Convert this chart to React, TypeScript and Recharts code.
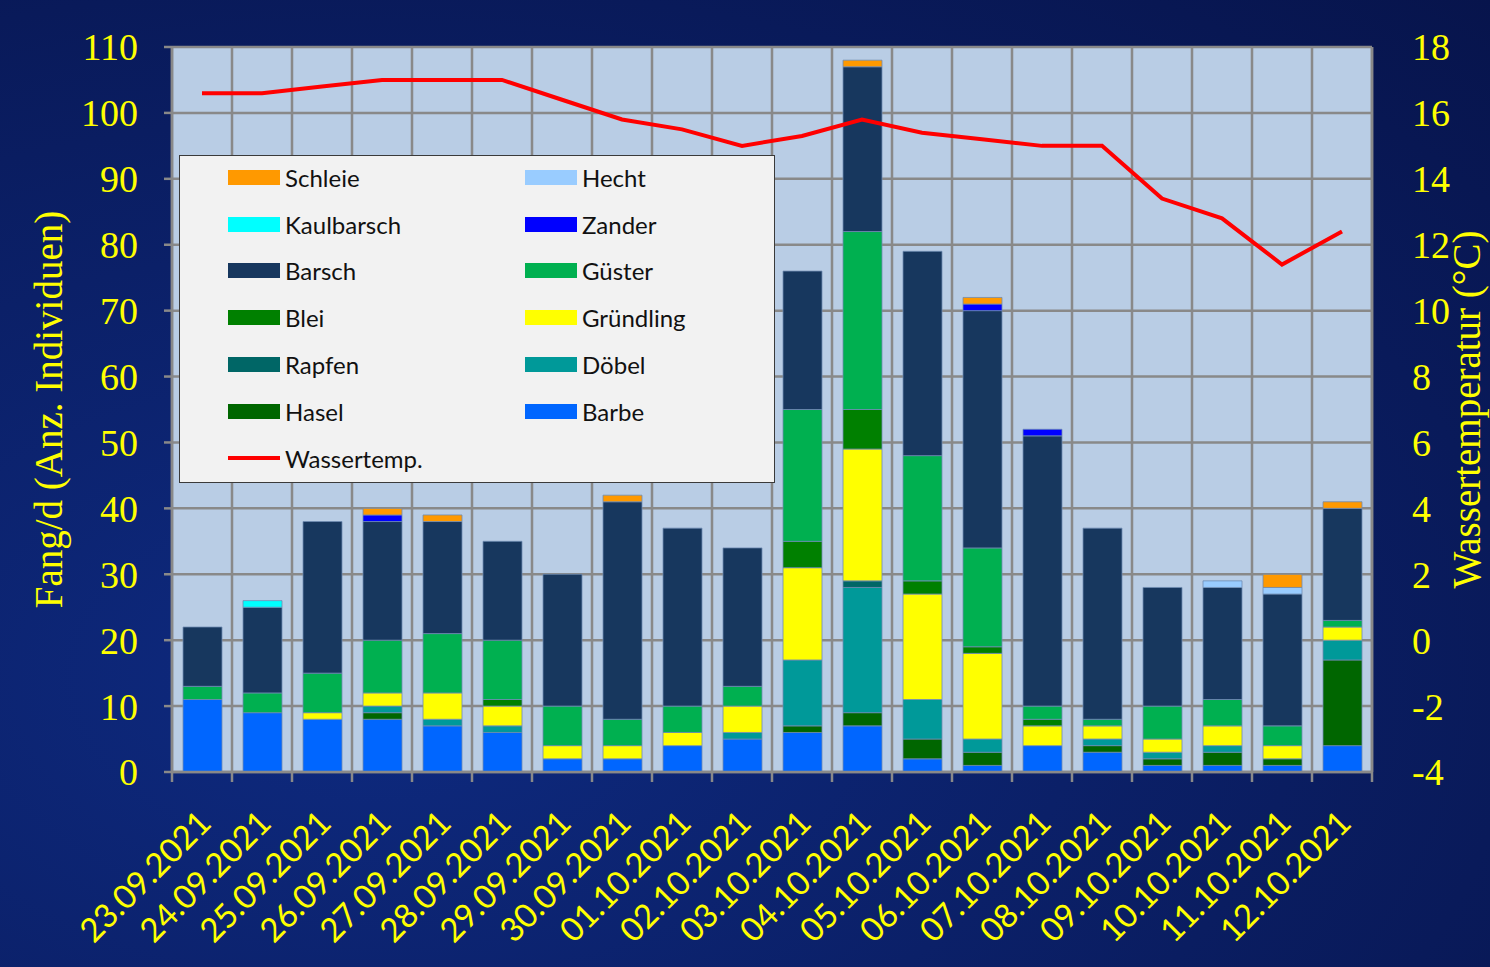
import React from 'react';
import {
  ComposedChart, Bar, Line, XAxis, YAxis, CartesianGrid,
} from 'recharts';

const dates = [
  '23.09.2021', '24.09.2021', '25.09.2021', '26.09.2021', '27.09.2021',
  '28.09.2021', '29.09.2021', '30.09.2021', '01.10.2021', '02.10.2021',
  '03.10.2021', '04.10.2021', '05.10.2021', '06.10.2021', '07.10.2021',
  '08.10.2021', '09.10.2021', '10.10.2021', '11.10.2021', '12.10.2021',
];

// catch per day, stacked bottom -> top
const barbe = [11, 9, 8, 8, 7, 6, 2, 2, 4, 5, 6, 7, 2, 1, 4, 3, 1, 1, 1, 4];
const hasel = [0, 0, 0, 1, 0, 0, 0, 0, 0, 0, 1, 2, 3, 2, 0, 1, 1, 2, 1, 13];
const doebel = [0, 0, 0, 1, 1, 1, 0, 0, 0, 1, 10, 19, 6, 2, 0, 1, 1, 1, 0, 3];
const rapfen = [0, 0, 0, 0, 0, 0, 0, 0, 0, 0, 0, 1, 0, 0, 0, 0, 0, 0, 0, 0];
const gruendling = [0, 0, 1, 2, 4, 3, 2, 2, 2, 4, 14, 20, 16, 13, 3, 2, 2, 3, 2, 2];
const blei = [0, 0, 0, 0, 0, 1, 0, 0, 0, 0, 4, 6, 2, 1, 1, 0, 0, 0, 0, 0];
const guester = [2, 3, 6, 8, 9, 9, 6, 4, 4, 3, 20, 27, 19, 15, 2, 1, 5, 4, 3, 1];
const barsch = [9, 13, 23, 18, 17, 15, 20, 33, 27, 21, 21, 25, 31, 36, 41, 29, 18, 17, 20, 17];
const zander = [0, 0, 0, 1, 0, 0, 0, 0, 0, 0, 0, 0, 0, 1, 1, 0, 0, 0, 0, 0];
const kaulbarsch = [0, 1, 0, 0, 0, 0, 0, 0, 0, 0, 0, 0, 0, 0, 0, 0, 0, 0, 0, 0];
const hecht = [0, 0, 0, 0, 0, 0, 0, 0, 0, 0, 0, 0, 0, 0, 0, 0, 0, 1, 1, 0];
const schleie = [0, 0, 0, 1, 1, 0, 0, 1, 0, 0, 0, 1, 0, 1, 0, 0, 0, 0, 2, 1];

const wassertemp = [
  16.6, 16.6, 16.8, 17.0, 17.0, 17.0, 16.4, 15.8, 15.5, 15.0,
  15.3, 15.8, 15.4, 15.2, 15.0, 15.0, 13.4, 12.8, 11.4, 12.4,
];

const leftTicks = [0, 10, 20, 30, 40, 50, 60, 70, 80, 90, 100, 110];
const rightTicks = [-4, -2, 0, 2, 4, 6, 8, 10, 12, 14, 16, 18];

const series = [
  { key: 'Barbe', values: barbe, color: '#0066ff' },
  { key: 'Hasel', values: hasel, color: '#006600' },
  { key: 'Döbel', values: doebel, color: '#009999' },
  { key: 'Rapfen', values: rapfen, color: '#006666' },
  { key: 'Gründling', values: gruendling, color: '#ffff00' },
  { key: 'Blei', values: blei, color: '#008000' },
  { key: 'Güster', values: guester, color: '#00b050' },
  { key: 'Barsch', values: barsch, color: '#17375e' },
  { key: 'Zander', values: zander, color: '#0000ff' },
  { key: 'Kaulbarsch', values: kaulbarsch, color: '#00ffff' },
  { key: 'Hecht', values: hecht, color: '#99ccff' },
  { key: 'Schleie', values: schleie, color: '#ff9900' },
];

// legend as Excel lays it out: two columns, top series first
const legendRows = [
  ['Schleie', 'Hecht'],
  ['Kaulbarsch', 'Zander'],
  ['Barsch', 'Güster'],
  ['Blei', 'Gründling'],
  ['Rapfen', 'Döbel'],
  ['Hasel', 'Barbe'],
];

const data = dates.map((d, i) => {
  const row: Record<string, string | number> = { date: d, temp: wassertemp[i] };
  series.forEach((s) => { row[s.key] = s.values[i]; });
  return row;
});

const colorOf = (k: string) => series.find((s) => s.key === k)?.color ?? '#000';

const YELLOW = '#ffff00';
const GRID = '#898989';
const SERIF = '"Liberation Serif", serif';
const SANS = 'Lato, "Open Sans", sans-serif';

function DateTick(props: any) {
  const { x, y, payload, index, visibleTicksCount, width } = props;
  const band = width && visibleTicksCount ? width / visibleTicksCount : 60;
  const last = index === visibleTicksCount - 1;
  const ax = x + 11;
  const ay = y + 45;
  return (
    <g>
      <line x1={x - band / 2} x2={x - band / 2} y1={y - 8} y2={y + 2} stroke={GRID} strokeWidth={2.5} />
      {last && <line x1={x + band / 2} x2={x + band / 2} y1={y - 8} y2={y + 2} stroke={GRID} strokeWidth={2.5} />}
      <text
        x={ax}
        y={ay}
        transform={`rotate(-45 ${ax} ${ay})`}
        textAnchor="end"
        fill={YELLOW}
        fontFamily={SANS}
        fontSize={33}
      >
        {payload.value}
      </text>
    </g>
  );
}

// rotated axis title; baseline offset measured from the axis' own viewBox
const axisTitle = (text: string, side: 'left' | 'right') => (props: any) => {
  const { viewBox } = props;
  const cx = side === 'left' ? viewBox.x + 62 : viewBox.x + viewBox.width - 10;
  const cy = viewBox.y + viewBox.height / 2;
  return (
    <text
      x={cx}
      y={cy}
      transform={`rotate(-90 ${cx} ${cy})`}
      textAnchor="middle"
      fill={YELLOW}
      fontFamily={SERIF}
      fontSize={39}
    >
      {text}
    </text>
  );
};

function LegendBox() {
  const item = (name: string, color: string, line = false) => (
    <div key={name} style={{ display: 'flex', alignItems: 'center', height: 46.8 }}>
      <div style={{ width: 52, height: line ? 4 : 15, background: color, marginRight: 5 }} />
      <span style={{ fontFamily: SANS, fontSize: 24, color: '#111' }}>{name}</span>
    </div>
  );
  return (
    <div
      style={{
        position: 'absolute',
        left: 179,
        top: 155,
        width: 596,
        height: 328,
        background: '#f2f2f2',
        border: '1px solid #3a3a3a',
        boxSizing: 'border-box',
        paddingLeft: 48,
      }}
    >
      <div style={{ display: 'flex', marginTop: -2 }}>
        <div style={{ width: 297 }}>
          {legendRows.map((r) => item(r[0], colorOf(r[0])))}
          {item('Wassertemp.', '#ff0000', true)}
        </div>
        <div>
          {legendRows.map((r) => item(r[1], colorOf(r[1])))}
        </div>
      </div>
    </div>
  );
}

export default function App() {
  return (
    <div
      style={{
        position: 'absolute',
        left: 0,
        top: 0,
        width: 1490,
        height: 967,
        background: 'radial-gradient(ellipse at 25% 70%, #0e2a80 0%, #0b2068 45%, #07144c 100%)',
      }}
    >
      <ComposedChart
        width={1490}
        height={967}
        data={data}
        margin={{ top: 47, right: 0, left: 0, bottom: 0 }}
        barSize={39}
      >
        <CartesianGrid
          yAxisId="left"
          stroke={GRID}
          strokeWidth={2.5}
          fill="#b9cde5"
          fillOpacity={1}
          verticalCoordinatesGenerator={({ offset }: any) =>
            dates.map((_, i) => offset.left + (i * offset.width) / dates.length).concat(offset.left + offset.width)
          }
        />
        <XAxis
          dataKey="date"
          height={195}
          interval={0}
          tick={<DateTick />}
          tickLine={false}
          axisLine={{ stroke: GRID, strokeWidth: 2.5 }}
        />
        <YAxis
          yAxisId="left"
          width={172}
          domain={[0, 110]}
          ticks={leftTicks}
          interval={0}
          tick={{ fill: YELLOW, fontFamily: SERIF, fontSize: 38 }}
          tickLine={{ stroke: GRID, strokeWidth: 2.5 }}
          tickSize={8}
          tickMargin={26}
          axisLine={{ stroke: GRID, strokeWidth: 2.5 }}
          label={{ content: axisTitle('Fang/d (Anz. Individuen)', 'left') }}
        />
        <YAxis
          yAxisId="right"
          orientation="right"
          width={118}
          domain={[-4, 18]}
          ticks={rightTicks}
          interval={0}
          tick={{ fill: YELLOW, fontFamily: SERIF, fontSize: 38, textAnchor: 'start' }}
          tickLine={false}
          tickMargin={34}
          axisLine={{ stroke: GRID, strokeWidth: 2.5 }}
          label={{ content: axisTitle('Wassertemperatur (°C)', 'right') }}
        />
        {series.map((s) => (
          <Bar
            key={s.key}
            yAxisId="left"
            dataKey={s.key}
            stackId="fang"
            fill={s.color}
            stroke="#6f8bb3"
            strokeWidth={0.8}
            isAnimationActive={false}
          />
        ))}
        <Line
          yAxisId="right"
          dataKey="temp"
          name="Wassertemp."
          type="linear"
          stroke="#ff0000"
          strokeWidth={4}
          dot={false}
          activeDot={false}
          isAnimationActive={false}
        />
      </ComposedChart>
      <LegendBox />
    </div>
  );
}
